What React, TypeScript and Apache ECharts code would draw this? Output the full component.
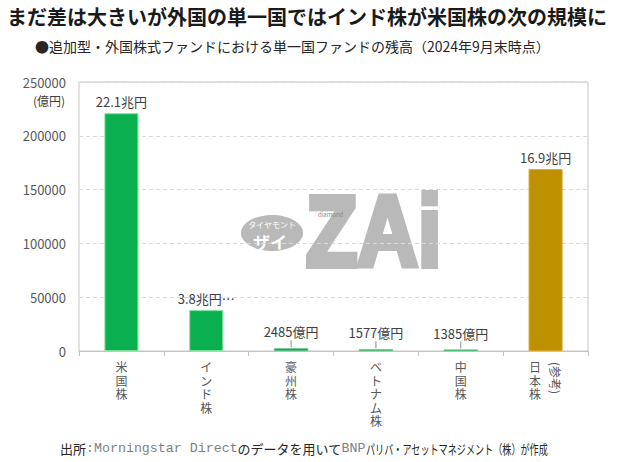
import React, { useEffect, useRef } from 'react';
import * as echarts from 'echarts';

const titleText = 'まだ差は大きいが外国の単一国ではインド株が米国株の次の規模に';
const subtitleText = '●追加型・外国株式ファンドにおける単一国ファンドの残高（2024年9月末時点）';
const sourceHead = '出所{m|:Morningstar Direct}のデータを用いて{m|BNP}';
const sourceTail = 'パリバ・アセットマネジメント（株）が作成';
const categories = ['米国株', 'インド株', '豪州株', 'ベトナム株', '中国株', '日本株'];
const values = [221000, 38000, 2485, 1577, 1385, 169000];
const valueLabels = ['22.1兆円', '3.8兆円…', '2485億円', '1577億円', '1385億円', '16.9兆円'];
const barColors = ['#0aaf50', '#0aaf50', '#0aaf50', '#0aaf50', '#0aaf50', '#bf9000'];
const smallBars = [false, false, true, true, true, false];
const referenceCategory = '日本株';
const referenceNote = '(参考)';
const yUnit = '(億円)';
const yMin = 0;
const yMax = 250000;
const yInterval = 50000;

const FONT = "'Noto Sans CJK JP', 'Noto Sans', sans-serif";
const MONO = "'Liberation Mono', 'DejaVu Sans Mono', monospace";

export default function App() {
  const ref = useRef<HTMLDivElement>(null);
  useEffect(() => {
    if (!ref.current) return;
    const chart = echarts.init(ref.current, null, { renderer: 'svg' });
    const option: any = {
      animation: false,
      backgroundColor: '#ffffff',
      textStyle: { fontFamily: FONT },
      grid: {
        left: 79,
        right: 32,
        top: 82,
        bottom: 111,
        show: true,
        borderColor: '#c4c4c4',
        borderWidth: 1,
        backgroundColor: 'transparent',
      },
      xAxis: [
        {
          type: 'category',
          position: 'bottom',
          data: categories.map((c) =>
            c === referenceCategory ? { value: c, textStyle: { padding: [0, 21, 0, 0] } } : c
          ),
          axisLine: { show: true, lineStyle: { color: '#c4c4c4' } },
          axisTick: { show: true, alignWithLabel: false, length: 5, lineStyle: { color: '#c4c4c4' } },
          axisLabel: {
            interval: 0,
            margin: 9,
            fontSize: 12,
            lineHeight: 13.5,
            color: '#595959',
            formatter: (v: string) => v.split('').join('\n'),
          },
        },
        {
          type: 'category',
          position: 'bottom',
          data: categories,
          axisLine: { show: false },
          axisTick: { show: false },
          splitLine: { show: false },
          axisLabel: {
            interval: 0,
            rotate: -90,
            margin: 11,
            fontSize: 12,
            color: '#595959',
            verticalAlign: 'bottom',
            padding: [0, 0, 4, 0],
            formatter: (v: string) => (v === referenceCategory ? referenceNote : ''),
          },
        },
      ],
      yAxis: {
        type: 'value',
        min: yMin,
        max: yMax,
        interval: yInterval,
        name: yUnit,
        nameLocation: 'end',
        nameGap: -18,
        nameTextStyle: {
          align: 'right',
          verticalAlign: 'middle',
          padding: [0, 14, 0, 0],
          color: '#404040',
          fontSize: 12,
        },
        axisLine: { show: false },
        axisTick: { show: false },
        axisLabel: { color: '#595959', fontSize: 13, margin: 13, formatter: (v: number) => String(v) },
        splitLine: { show: true, lineStyle: { color: '#d9d9d9', type: [4, 3] } },
      },
      series: [
        {
          type: 'bar',
          xAxisIndex: 0,
          barWidth: 34,
          data: values.map((v, i) => ({
            value: v,
            itemStyle: {
              color: barColors[i],
              borderColor: smallBars[i] ? '#6fbf8a' : barColors[i] === '#bf9000' ? '#d2a520' : '#7ee29a',
              borderWidth: smallBars[i] ? 0.5 : 1,
            },
            label: { formatter: valueLabels[i], distance: smallBars[i] ? 10 : 5 },
          })),
          label: {
            show: true,
            position: 'top',
            distance: 5,
            fontSize: 13,
            color: '#404040',
          },
        },
        {
          type: 'custom',
          xAxisIndex: 0,
          silent: true,
          data: categories.map((c, i) => [i, values[i], smallBars[i] ? 1 : 0]),
          renderItem: (params: any, api: any) => {
            if (!api.value(2)) return null;
            const p = api.coord([api.value(0), api.value(1)]);
            return {
              type: 'line',
              shape: { x1: p[0], y1: p[1] - 1, x2: p[0], y2: p[1] - 8 },
              style: { stroke: '#8c8c8c', lineWidth: 1 },
            };
          },
        },
      ],
      graphic: [
        {
          type: 'text',
          left: 7,
          top: 6,
          style: {
            text: titleText,
            fontSize: 20,
            fontWeight: 'bold',
            fill: '#1a1a1a',
            fontFamily: FONT,
          },
        },
        {
          type: 'text',
          left: 35,
          top: 39,
          style: {
            text: subtitleText,
            fontSize: 14,
            fill: '#262626',
            fontFamily: FONT,
          },
        },
        {
          type: 'text',
          x: 60,
          y: 448,
          style: {
            text: sourceHead,
            fontSize: 13,
            fill: '#262626',
            verticalAlign: 'middle',
            fontFamily: FONT,
            rich: {
              m: { fontFamily: MONO, fontSize: 13.3, fill: '#7f7f7f' },
            },
          },
        },
        {
          type: 'text',
          x: 366,
          y: 448,
          scaleX: 0.7,
          style: {
            text: sourceTail,
            fontSize: 13,
            fill: '#262626',
            verticalAlign: 'middle',
            fontFamily: FONT,
          },
        },
        {
          type: 'group',
          z: 50,
          children: [
            { type: 'ellipse', shape: { cx: 272, cy: 233, rx: 31, ry: 18 }, style: { fill: '#b9b9b9' } },
            {
              type: 'text',
              x: 272,
              y: 224,
              style: { text: 'タイヤモント', fontSize: 8, fill: '#ffffff', align: 'center', verticalAlign: 'middle', fontFamily: FONT },
            },
            {
              type: 'text',
              x: 270,
              y: 241,
              style: { text: 'ザイ', fontSize: 17, fontWeight: 'bold', fill: '#ffffff', align: 'center', verticalAlign: 'middle', fontFamily: FONT },
            },
            {
              type: 'text',
              x: 306,
              y: 231,
              scaleX: 0.84,
              style: {
                text: 'ZAi',
                fontSize: 100,
                fontWeight: 'bold',
                fill: '#b9b9b9',
                stroke: '#b9b9b9',
                lineWidth: 6,
                align: 'left',
                verticalAlign: 'middle',
                fontFamily: "'Liberation Sans', Arial, sans-serif",
              },
            },
            {
              type: 'text',
              x: 318,
              y: 214,
              style: { text: 'diamond', fontSize: 6, fill: '#8a8a8a', verticalAlign: 'middle', fontFamily: FONT },
            },
          ],
        },
      ],
    };
    chart.setOption(option);
    return () => chart.dispose();
  }, []);
  return (
    <div
      ref={ref}
      style={{ position: 'fixed', left: 0, top: 0, width: 620, height: 462, background: '#fff' }}
    />
  );
}
